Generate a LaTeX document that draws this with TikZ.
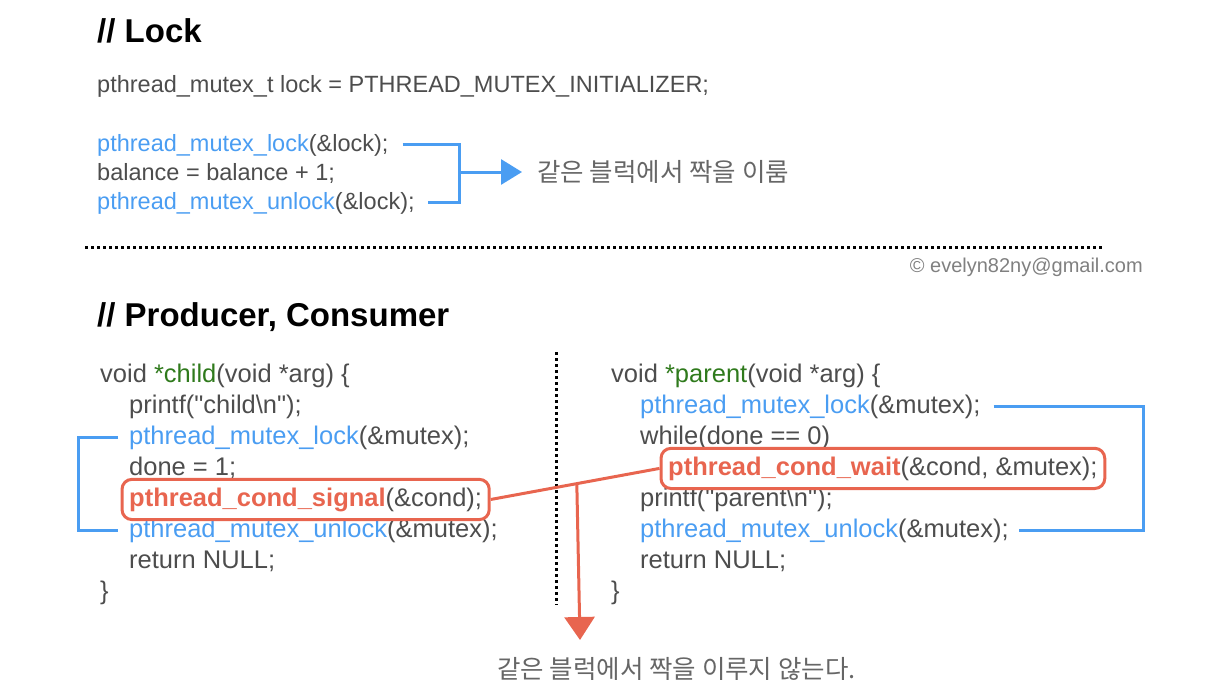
\documentclass[tikz,border=0pt]{standalone}
\usepackage{fontspec}
\setmainfont{Liberation Sans}
\newfontfamily\krfont{Noto Sans CJK KR}
\usetikzlibrary{arrows.meta,calc,fit}
\definecolor{codegray}{HTML}{4D4D4D}
\definecolor{codeblue}{HTML}{4A9DF2}
\definecolor{codegreen}{HTML}{2F7A1C}
\definecolor{codered}{HTML}{E8654F}
\definecolor{notegray}{HTML}{666666}
\newcommand{\fn}[1]{\textcolor{codeblue}{#1}}
\newcommand{\sg}[1]{\textcolor{codered}{\bfseries #1}}
\newcommand{\nm}[1]{\textcolor{codegreen}{#1}}
\begin{document}
\begin{tikzpicture}[x=1pt,y=-1pt,
        codeln/.style={anchor=base west,inner sep=0,text=codegray,font=\fontsize{25.5}{30}\selectfont},
        lockln/.style={codeln,font=\fontsize{23.5}{28}\selectfont},
        heading/.style={anchor=base west,inner sep=0,font=\fontsize{33}{38}\selectfont\bfseries},
        krnote/.style={inner sep=0,text=notegray,font=\fontsize{25.5}{30}\selectfont\krfont},
        bluebr/.style={draw=codeblue,line width=3pt},
        bluearr/.style={bluebr,shorten >=15pt,-{Triangle[length=21pt,width=25pt]}},
        redbox/.style={draw=codered,line width=3pt,rounded corners=10pt,inner xsep=7pt,inner ysep=8pt},
        redln/.style={draw=codered,line width=3pt},
        redarr/.style={redln,-{Triangle[length=23pt,width=30pt]}},
        dotsep/.style={line width=3pt,dash pattern=on 3pt off 3pt}]
        \useasboundingbox (0,0) rectangle (1230,694);
        \node[heading] (hlock) at (97,42) {// Lock};
        \node[lockln] (init) at (97,92) {pthread\_mutex\_t lock = PTHREAD\_MUTEX\_INITIALIZER;};
        \node[lockln] (lk1) at (97,151) {\fn{pthread\_mutex\_lock}(\&lock);};
        \node[lockln] (lk2) at (97,180) {balance = balance + 1;};
        \node[lockln] (lk3) at (97,209) {\fn{pthread\_mutex\_unlock}(\&lock);};
        \coordinate (lbr) at (459,172);
        \node[krnote,anchor=west] (lnote) at (537,172) {같은 블럭에서 짝을 이룸};
        \draw[bluebr] ([xshift=14pt]lk1.east) -| (lbr) |- ([xshift=13pt]lk3.east);
        \draw[bluearr] (lbr) -- (lnote.west);
        \draw[dotsep] (85,247) -- (1102,247);
        \node[anchor=base east,inner sep=0,text=gray,font=\fontsize{20}{24}\selectfont] (copy) at (1143,272) {© evelyn82ny@gmail.com};
        \node[heading] (hprod) at (97,326) {// Producer, Consumer};
        \node[codeln] (c0) at (100,382) {void \nm{*child}(void *arg) \{};
        \node[codeln] (c1) at (129,413) {printf(\textquotedbl child\textbackslash n\textquotedbl);};
        \node[codeln] (c2) at (129,444) {\fn{pthread\_mutex\_lock}(\&mutex);};
        \node[codeln] (c3) at (129,475) {done = 1;};
        \node[codeln] (c4) at (129,506) {\sg{pthread\_cond\_signal}(\&cond);};
        \node[codeln] (c5) at (129,537) {\fn{pthread\_mutex\_unlock}(\&mutex);};
        \node[codeln] (c6) at (129,568) {return NULL;};
        \node[codeln] (c7) at (100,599) {\}};
        \node[codeln] (p0) at (611,382) {void \nm{*parent}(void *arg) \{};
        \node[codeln] (p1) at (640,413) {\fn{pthread\_mutex\_lock}(\&mutex);};
        \node[codeln] (p2) at (640,444) {while(done == 0)};
        \node[codeln] (p3) at (668,475) {\sg{pthread\_cond\_wait}(\&cond, \&mutex);};
        \node[codeln] (p4) at (640,506) {printf(\textquotedbl parent\textbackslash n\textquotedbl);};
        \node[codeln] (p5) at (640,537) {\fn{pthread\_mutex\_unlock}(\&mutex);};
        \node[codeln] (p6) at (640,568) {return NULL;};
        \node[codeln] (p7) at (611,599) {\}};
        \draw[dotsep] (556,352) -- (556,605);
        \draw[bluebr] ([xshift=-11pt]c2.west) -- ++(-40,0) |- ([xshift=-11pt]c5.west);
        \coordinate (pbr) at (1143,470);
        \draw[bluebr] ([xshift=13pt]p1.east) -| (pbr) |- ([xshift=10pt]p5.east);
        \node[redbox,fit=(c4)] (sigbox) {};
        \node[redbox,fit=(p3)] (waitbox) {};
        \draw[redln] (sigbox.east) -- (waitbox.west);
        \coordinate (junc) at ($(sigbox.east)!0.51!(waitbox.west)$);
        \coordinate (tip) at (580,640);
        \draw[redarr] (junc) -- (tip);
        \node[krnote,anchor=base west] (bnote) at (497,678) {같은 블럭에서 짝을 이루지 않는다.};
      \end{tikzpicture}
\end{document}
